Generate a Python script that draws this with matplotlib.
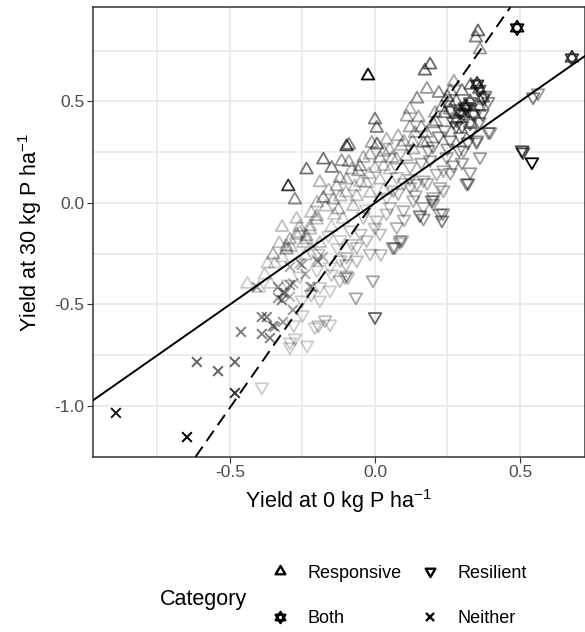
import numpy as np
import matplotlib
matplotlib.use('Agg')
import matplotlib.pyplot as plt
from matplotlib.path import Path
from matplotlib.lines import Line2D

plt.rcParams['font.family'] = ['Liberation Sans', 'DejaVu Sans']
plt.rcParams['mathtext.default'] = 'regular'

# ---------------- data ----------------
resp_x = [-0.024, 0.355, 0.348, 0.362, 0.19, 0.172, 0.179, 0.145, 0.272, 0.11,
          0.0, 0.006, 0.007, -0.098, -0.09, -0.178, -0.115, -0.149, -0.236, -0.299,
          -0.276, -0.178, -0.121, -0.052, -0.057, -0.011, 0.04, 0.08, 0.138, 0.207,
          0.259, 0.12, -0.017, 0.017, -0.08, -0.098, -0.029, -0.132, -0.144, -0.126,
          -0.201, -0.224, -0.293, -0.259, -0.236, -0.19, -0.305, -0.063, -0.075, -0.017,
          0.017, 0.052, 0.075, 0.109, 0.132, 0.167, 0.178, -0.351, -0.305, -0.27,
          -0.236, -0.224, -0.201, -0.247, -0.40, -0.38, -0.345, -0.32, -0.36, -0.44,
          -0.16, -0.2, -0.10, -0.05, 0.05, 0.09, 0.12, 0.20, 0.23, 0.15,
          -0.27, -0.32, -0.15, -0.11, 0.0, 0.03, -0.04, -0.19, 0.22, 0.26,
          0.25, 0.28, 0.30, 0.33, 0.24, 0.21, 0.18, 0.10, 0.06, 0.03,
          -0.02, -0.07, -0.12, -0.17, -0.22, -0.26, -0.29, -0.33, -0.37, -0.24,
          -0.14, 0.13, 0.16, 0.03, -0.09]
resp_y = [0.626, 0.843, 0.813, 0.754, 0.68, 0.65, 0.56, 0.512, 0.596, 0.423,
          0.409, 0.368, 0.286, 0.277, 0.285, 0.212, 0.204, 0.171, 0.163, 0.08,
          0.015, 0.023, 0.121, 0.179, 0.154, 0.294, 0.31, 0.327, 0.343, 0.442,
          0.491, 0.46, 0.236, 0.22, 0.163, 0.113, 0.097, 0.08, 0.015, -0.034,
          -0.067, -0.117, -0.182, -0.149, -0.182, -0.199, -0.215, 0.031, -0.018, 0.048,
          0.113, 0.163, 0.212, 0.228, 0.261, 0.294, 0.343, -0.256, -0.232, -0.158,
          -0.166, -0.133, -0.084, -0.199, -0.42, -0.355, -0.30, -0.27, -0.40, -0.40,
          0.06, 0.0, 0.05, 0.10, 0.26, 0.28, 0.37, 0.39, 0.47, 0.42,
          -0.08, -0.12, -0.12, -0.08, 0.17, 0.06, 0.22, 0.10, 0.54, 0.55,
          0.52, 0.50, 0.55, 0.58, 0.44, 0.40, 0.30, 0.30, 0.22, 0.18,
          0.14, 0.08, 0.03, -0.02, -0.05, -0.12, -0.22, -0.20, -0.30, -0.26,
          -0.06, 0.30, 0.37, 0.25, 0.20]
resp_w = [1.0, 0.6, 0.5, 0.4, 0.6, 0.6, 0.4, 0.45, 0.35, 0.35,
          0.5, 0.5, 0.55, 0.7, 0.5, 0.55, 0.4, 0.5, 0.55, 0.8,
          0.45, 0.4, 0.35, 0.4, 0.35, 0.35, 0.3, 0.3, 0.3, 0.35,
          0.4, 0.3, 0.3, 0.3, 0.3, 0.3, 0.25, 0.3, 0.3, 0.3,
          0.3, 0.25, 0.3, 0.25, 0.25, 0.25, 0.3, 0.25, 0.25, 0.25,
          0.25, 0.25, 0.3, 0.3, 0.3, 0.35, 0.35, 0.3, 0.35, 0.3,
          0.3, 0.25, 0.25, 0.25, 0.2, 0.2, 0.2, 0.2, 0.2, 0.2,
          0.25, 0.25, 0.25, 0.25, 0.3, 0.3, 0.35, 0.4, 0.4, 0.35,
          0.25, 0.25, 0.2, 0.2, 0.25, 0.2, 0.3, 0.3, 0.45, 0.4,
          0.45, 0.5, 0.5, 0.5, 0.45, 0.4, 0.35, 0.3, 0.3, 0.25,
          0.25, 0.25, 0.25, 0.25, 0.25, 0.25, 0.25, 0.25, 0.2, 0.25,
          0.2, 0.3, 0.35, 0.3, 0.35]

both_x = [0.49, 0.679, 0.352, 0.36, 0.372, 0.328, 0.31, 0.293, 0.316, 0.282,
          0.328, 0.305, 0.259, 0.34, 0.36]
both_y = [0.862, 0.714, 0.585, 0.56, 0.517, 0.498, 0.473, 0.448, 0.474, 0.409,
          0.393, 0.442, 0.458, 0.44, 0.47]
both_w = [1.0, 0.8, 0.8, 0.6, 0.6, 0.6, 0.6, 0.6, 0.5, 0.5,
          0.5, 0.5, 0.4, 0.5, 0.4]

resil_x = [0.545, 0.562, 0.507, 0.51, 0.541, 0.397, 0.362, 0.328, 0.321, 0.2,
           0.231, 0.234, 0.155, 0.167, -0.007, 0.0, -0.066, -0.155, -0.207, -0.234,
           -0.293, -0.276, -0.121, -0.093, 0.069, 0.093, -0.39, -0.293, 0.086, 0.062,
           -0.103, 0.316, 0.305, 0.27, 0.236, 0.201, 0.201, 0.132, 0.098, 0.075,
           0.086, 0.063, 0.017, 0.006, -0.029, -0.063, -0.098, -0.098, -0.155, -0.19,
           0.052, 0.121, 0.167, 0.213, 0.247, 0.063, -0.04, -0.086, -0.017, -0.063,
           0.35, 0.224, 0.195, 0.167, 0.224, 0.144, 0.075, 0.121, 0.19, 0.184,
           0.259, 0.293, 0.351, 0.391, 0.236, -0.252, -0.19, -0.155, -0.195, -0.172,
           -0.195, -0.13, -0.16, 0.28, 0.22, 0.25, 0.10, 0.04, -0.03, -0.12,
           -0.30, -0.26, 0.30,
           0.27, 0.30, 0.33, 0.36, 0.24, 0.20, 0.16, 0.12, 0.08, 0.04,
           0.00, -0.05, -0.08, -0.12, -0.15, -0.20, -0.22, -0.10, 0.02, 0.10,
           0.14, 0.18, 0.26, 0.29, 0.32, 0.37, 0.39, 0.38, -0.25, -0.28]
resil_y = [0.522, 0.542, 0.261, 0.251, 0.202, 0.35, 0.227, 0.153, 0.099, 0.015,
           -0.084, -0.049, -0.059, -0.075, -0.379, -0.56, -0.463, -0.596, -0.611, -0.70,
           -0.709, -0.665, -0.379, -0.364, -0.217, -0.182, -0.906, -0.685, -0.192, -0.217,
           -0.364, 0.097, 0.261, 0.187, 0.064, 0.031, -0.002, 0.015, -0.034, -0.117,
           -0.182, -0.215, -0.149, -0.084, -0.182, -0.215, -0.264, -0.355, -0.314, -0.412,
           -0.018, 0.08, 0.113, 0.146, 0.228, 0.064, -0.067, -0.133, -0.248, -0.281,
           0.30, 0.08, 0.015, -0.018, -0.051, 0.097, 0.13, 0.179, 0.212, 0.261,
           0.31, 0.327, 0.31, 0.351, 0.163, -0.478, -0.478, -0.429, -0.601, -0.576,
           -0.248, -0.22, -0.16, 0.38, 0.33, 0.27, 0.10, 0.03, -0.03, -0.18,
           -0.40, -0.36, 0.20,
           0.40, 0.38, 0.35, 0.40, 0.36, 0.28, 0.20, 0.12, 0.05, -0.05,
           -0.12, -0.15, -0.20, -0.28, -0.35, -0.33, -0.45, -0.30, -0.25, -0.08,
           0.04, 0.10, 0.15, 0.26, 0.30, 0.44, 0.50, 0.53, -0.55, -0.60]
resil_w = [0.5, 0.4, 0.7, 0.7, 1.0, 0.4, 0.4, 0.4, 0.45, 0.35,
           0.5, 0.4, 0.5, 0.4, 0.35, 0.6, 0.35, 0.2, 0.2, 0.2,
           0.2, 0.2, 0.25, 0.25, 0.3, 0.3, 0.2, 0.2, 0.25, 0.25,
           0.25, 0.4, 0.35, 0.35, 0.3, 0.3, 0.3, 0.3, 0.3, 0.3,
           0.25, 0.25, 0.25, 0.25, 0.25, 0.25, 0.25, 0.25, 0.2, 0.2,
           0.25, 0.3, 0.3, 0.3, 0.35, 0.25, 0.25, 0.25, 0.25, 0.25,
           0.35, 0.3, 0.3, 0.3, 0.35, 0.3, 0.25, 0.3, 0.35, 0.35,
           0.45, 0.45, 0.45, 0.4, 0.3, 0.2, 0.2, 0.2, 0.25, 0.25,
           0.25, 0.2, 0.2, 0.5, 0.45, 0.4, 0.25, 0.2, 0.2, 0.2,
           0.2, 0.2, 0.4,
           0.5, 0.5, 0.5, 0.45, 0.45, 0.4, 0.35, 0.3, 0.3, 0.25,
           0.25, 0.25, 0.25, 0.25, 0.2, 0.2, 0.2, 0.25, 0.25, 0.3,
           0.3, 0.3, 0.35, 0.4, 0.45, 0.5, 0.45, 0.5, 0.2, 0.2]

neit_x = [-0.893, -0.648, -0.614, -0.541, -0.483, -0.483, -0.462, -0.39, -0.373, -0.39,
          -0.352, -0.362, -0.321, -0.334, -0.407, -0.317, -0.293, -0.283, -0.334, -0.31,
          -0.293, -0.345, -0.317, -0.252, -0.217, -0.179, -0.197, -0.282, -0.293, -0.224,
          -0.259, -0.201, -0.213, -0.24]
neit_y = [-1.034, -1.153, -0.783, -0.828, -0.783, -0.936, -0.635, -0.562, -0.562, -0.645,
          -0.606, -0.665, -0.478, -0.414, -0.414, -0.443, -0.404, -0.527, -0.468, -0.443,
          -0.315, -0.61, -0.586, -0.305, -0.414, -0.266, -0.29, -0.396, -0.462, -0.412,
          -0.297, -0.281, -0.215, -0.35]
neit_w = [0.9, 1.0, 0.6, 0.6, 0.6, 0.8, 0.5, 0.5, 0.5, 0.5,
          0.5, 0.5, 0.5, 0.4, 0.4, 0.4, 0.4, 0.4, 0.4, 0.35,
          0.35, 0.4, 0.4, 0.35, 0.35, 0.3, 0.3, 0.3, 0.3, 0.3,
          0.3, 0.3, 0.25, 0.3]

ref_slope, ref_icpt = 1.0, 0.0        # 1:1 line
fit_slope, fit_icpt = 2.04, 0.012     # fitted line (dashed)

categories = ['Responsive', 'Both', 'Resilient', 'Neither']

# ---------------- markers ----------------
s3 = np.sqrt(3) / 2
tri_up = Path([(0, 1), (-s3, -0.5), (s3, -0.5), (0, 1)],
              [Path.MOVETO, Path.LINETO, Path.LINETO, Path.CLOSEPOLY])
tri_dn = Path([(0, -1), (-s3, 0.5), (s3, 0.5), (0, -1)],
              [Path.MOVETO, Path.LINETO, Path.LINETO, Path.CLOSEPOLY])
star = Path([(0, 1), (-s3, -0.5), (s3, -0.5), (0, 1),
             (0, -1), (-s3, 0.5), (s3, 0.5), (0, -1)],
            [Path.MOVETO, Path.LINETO, Path.LINETO, Path.CLOSEPOLY,
             Path.MOVETO, Path.LINETO, Path.LINETO, Path.CLOSEPOLY])

W, H = 585, 632
fig = plt.figure(figsize=(W / 100, H / 100), dpi=100)
ax = fig.add_axes([93 / W, 1 - 457 / H, (585 - 93) / W, (457 - 7) / H])

ax.set_xlim(-0.972, 0.724)
ax.set_ylim(-1.251, 0.965)

ax.set_xticks([-0.5, 0.0, 0.5])
ax.set_xticks([-0.75, -0.25, 0.25], minor=True)
ax.set_yticks([-1.0, -0.5, 0.0, 0.5])
ax.set_yticks([-0.75, -0.25, 0.25, 0.75], minor=True)
ax.set_xticklabels(['-0.5', '0.0', '0.5'])
ax.set_yticklabels(['-1.0', '-0.5', '0.0', '0.5'])
ax.grid(which='major', color='#EBEBEB', lw=1.5, zorder=0)
ax.grid(which='minor', color='#EBEBEB', lw=1.3, zorder=0)
ax.set_axisbelow(True)
ax.tick_params(which='major', length=4.0, width=0.8, color='#333333',
               labelsize=12.5, labelcolor='#4D4D4D', pad=2)
ax.tick_params(which='minor', length=0)
for sp in ax.spines.values():
    sp.set_color('#333333')
    sp.set_linewidth(1.1)

def rgba(ws):
    return [(0, 0, 0, w) for w in ws]

ms = 10.5
ax.scatter(resp_x, resp_y, marker=tri_up, s=ms ** 2, facecolors='none',
           edgecolors=rgba(resp_w), linewidths=1.3, zorder=3)
ax.scatter(resil_x, resil_y, marker=tri_dn, s=ms ** 2, facecolors='none',
           edgecolors=rgba(resil_w), linewidths=1.3, zorder=3)
ax.scatter(both_x, both_y, marker=star, s=ms ** 2, facecolors='none',
           edgecolors=rgba(both_w), linewidths=1.3, zorder=3)
ax.scatter(neit_x, neit_y, marker='x', s=7 ** 2,
           c=rgba(neit_w), linewidths=1.4, zorder=3)

ax.axline((0, ref_icpt), slope=ref_slope, color='black', lw=1.4, zorder=4)
ax.axline((0, fit_icpt), slope=fit_slope, color='black', lw=1.4,
          dashes=(6.5, 3.5), zorder=4)

ax.set_xlabel('Yield at 0 kg P ha$^{-1}$', fontsize=15.5, labelpad=5)
ax.set_ylabel('Yield at 30 kg P ha$^{-1}$', fontsize=15.5, labelpad=8)

# ---------------- legend ----------------
handles = [Line2D([], [], ls='none', marker=tri_up, ms=8, mfc='none', mec='black', mew=1.7),
           Line2D([], [], ls='none', marker=star, ms=8, mfc='none', mec='black', mew=1.7),
           Line2D([], [], ls='none', marker=tri_dn, ms=8, mfc='none', mec='black', mew=1.7),
           Line2D([], [], ls='none', marker='x', ms=6, mec='black', mew=1.7)]
fig.legend(handles, categories, ncol=2, loc='center left',
           bbox_to_anchor=(271 / W, 1 - 596 / H), frameon=False, fontsize=13,
           handlelength=1.0, handletextpad=1.0, columnspacing=1.1,
           labelspacing=1.6, borderpad=0, borderaxespad=0)
fig.text(203 / W, 1 - 599 / H, 'Category', fontsize=15.5, ha='center', va='center')

fig.savefig('out.png', dpi=100)
